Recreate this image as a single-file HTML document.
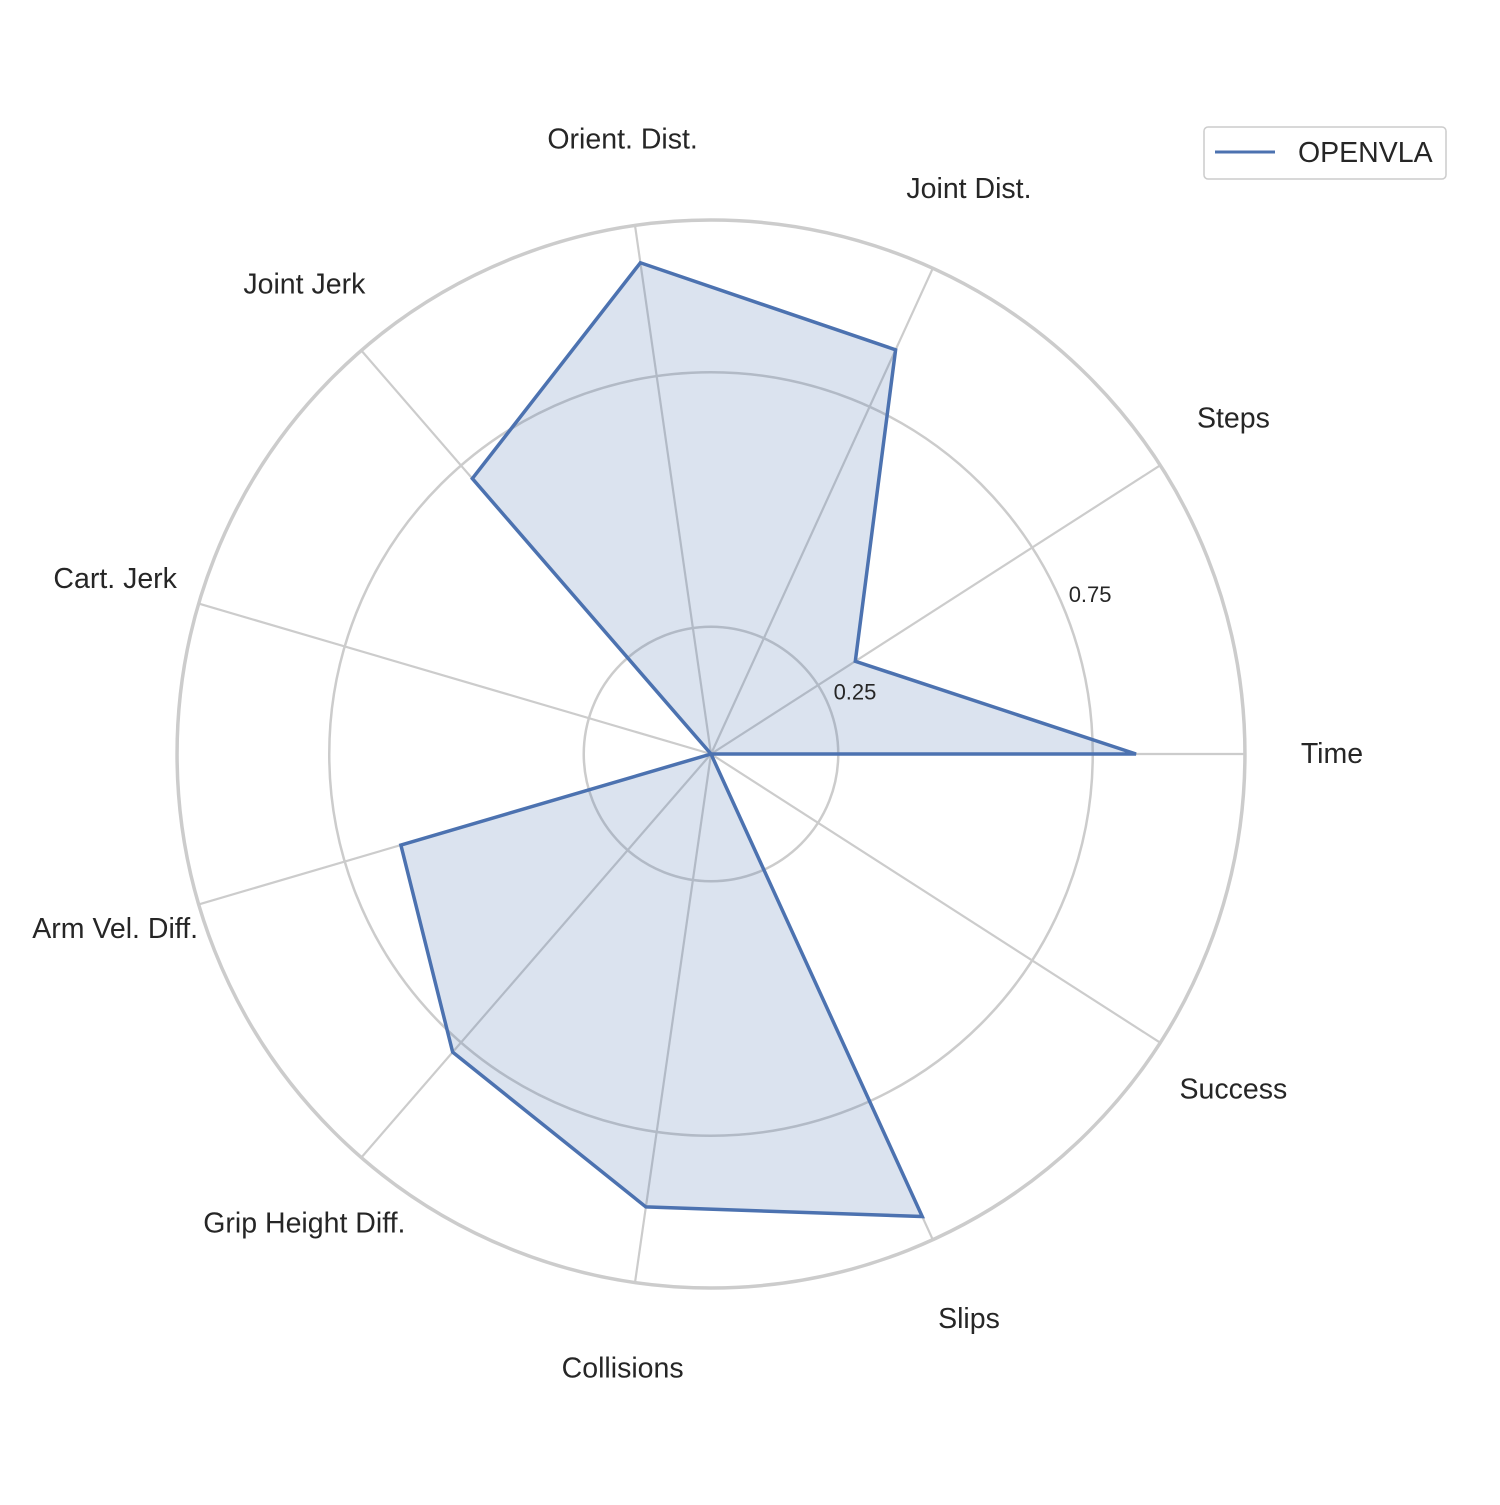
<!DOCTYPE html>
<html><head><meta charset="utf-8"><style>
body{margin:0;background:#fff}
svg text{font-family:"Liberation Sans","DejaVu Sans",sans-serif;fill:#262626}
</style></head><body>
<svg id="chart" width="1500" height="1500" viewBox="0 0 1500 1500" xmlns="http://www.w3.org/2000/svg">
<g id="grid"></g>
<g id="series"></g>
<g id="labels"></g>
<g>
<rect x="1204" y="127" width="242" height="52" rx="4" fill="#fff" stroke="#cccccc" stroke-width="1.5"/>
<line x1="1215" y1="152" x2="1275" y2="152" stroke="#4C72B0" stroke-width="3"/>
<text x="1298" y="162" font-size="28.5">OPENVLA</text>
</g>
</svg>
<script>
const categories=["Time","Steps","Joint Dist.","Orient. Dist.","Joint Jerk","Cart. Jerk","Arm Vel. Diff.","Grip Height Diff.","Collisions","Slips","Success"];
const values=[0.835,0.337,0.873,0.975,0.716,0,0.635,0.775,0.899,0.999,0];
const rTicks=[0.25,0.75];
const rTickLabels=["0.25","0.75"];
const cx=711,cy=754,scale=509,rmax=1.049;
const NS="http://www.w3.org/2000/svg";
function rad(v){return v*scale;}
function ang(i){return i*2*Math.PI/categories.length;}
function pt(i,v){const a=ang(i),r=rad(v);return [cx+r*Math.cos(a),cy-r*Math.sin(a)];}
function mk(tag,attrs,parent){const e=document.createElementNS(NS,tag);for(const k in attrs)e.setAttribute(k,attrs[k]);parent.appendChild(e);return e;}
const grid=document.getElementById('grid'),series=document.getElementById('series'),labels=document.getElementById('labels');
rTicks.forEach((t,k)=>{
 const c=mk('circle',{cx:cx,cy:cy,r:rad(t),fill:'none',stroke:'#cccccc','stroke-width':2.5},grid);
 
 
 const a=22.5*Math.PI/180;
 const tx=mk('text',{x:cx+rad(t)*Math.cos(a)+5,y:cy-rad(t)*Math.sin(a)-6,'font-size':22,'text-anchor':'start'},labels);
 tx.textContent=rTickLabels[k];
 
 
});
const oc=mk('circle',{cx:cx,cy:cy,r:rad(rmax),fill:'none',stroke:'#cccccc','stroke-width':3.5},grid);


categories.forEach((c,i)=>{
 const p=pt(i,rmax);
 const l=mk('line',{x1:cx,y1:cy,x2:p[0],y2:p[1],stroke:'#cccccc','stroke-width':2.2},grid);
 
 
 const q=pt(i,1.22);
 const t=mk('text',{x:q[0],y:q[1]+9,'font-size':28.5,'text-anchor':'middle'},labels);
 t.textContent=c;
 
 
});
const pts=values.map((v,i)=>pt(i,v).join(',')).join(' ');
const poly=mk('polygon',{points:pts,fill:'#4C72B0','fill-opacity':0.2,stroke:'#4C72B0','stroke-width':3.5,'stroke-linejoin':'miter'},series);


</script>
</body></html>
